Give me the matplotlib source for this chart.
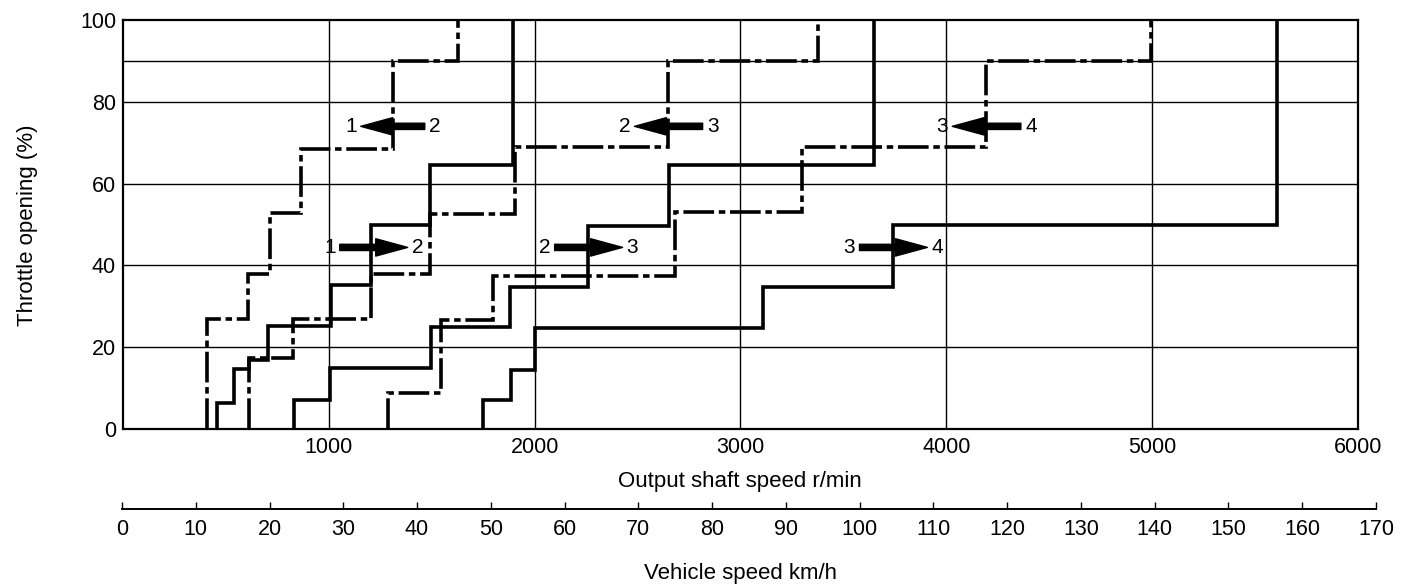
import matplotlib
matplotlib.use("Agg")
import matplotlib.pyplot as plt

plt.rcParams['font.family'] = ['Liberation Sans', 'DejaVu Sans']

# shift lines: rpm break points and throttle level reached at each (steps-pre)
up12_rpm = [455, 541, 613, 706, 1010, 1207, 1490, 1893, 1893]
up12_thr = [0, 6.4, 14.7, 16.9, 25.3, 35.2, 49.9, 64.5, 100]

up23_rpm = [832, 1005, 1498, 1879, 2259, 2655, 3650, 3650]
up23_thr = [0, 7, 14.8, 25, 34.7, 49.6, 64.6, 100]

up34_rpm = [1749, 1883, 2000, 3108, 3739, 5608, 5608]
up34_thr = [0, 7.1, 14.4, 24.6, 34.6, 50, 100]

down21_rpm = [409, 608, 713, 867, 1312, 1628, 1628]
down21_thr = [0, 26.8, 38, 52.7, 68.5, 90, 100]

down32_rpm = [613, 828, 1207, 1490, 1903, 2646, 3375, 3375]
down32_thr = [0, 17.3, 27, 38, 52.6, 69, 90, 100]

down43_rpm = [1288, 1547, 1797, 2680, 3299, 4193, 4993, 4993]
down43_thr = [0, 8.9, 26.7, 37.5, 53.1, 69, 90, 100]

# arrows: tail rpm, head rpm, throttle, lower gear, higher gear
arrow_tail = [1466, 2816, 4362, 1053, 2097, 3578]
arrow_head = [1155, 2485, 4029, 1383, 2427, 3908]
arrow_thr = [74, 74, 74, 44.4, 44.4, 44.4]
arrow_low = ['1', '2', '3', '1', '2', '3']
arrow_high = ['2', '3', '4', '2', '3', '4']

rpm_ticks = [1000, 2000, 3000, 4000, 5000, 6000]
thr_ticks = [0, 20, 40, 60, 80, 100]
grid_rpm = [1000, 2000, 3000, 4000, 5000]
grid_thr = [20, 40, 60, 80, 90]
kmh_ticks = list(range(0, 171, 10))

W, H = 1406, 587
fig = plt.figure(figsize=(W / 100, H / 100), dpi=100)
ax = fig.add_axes([123 / W, 1 - 429 / H, (1358 - 123) / W, (429 - 20) / H])
ax.set_xlim(0, 6000)
ax.set_ylim(0, 100)

for v in grid_rpm:
    ax.axvline(v, color='k', lw=1.0, zorder=1)
for h in grid_thr:
    ax.axhline(h, color='k', lw=1.0, zorder=1)

solid = dict(color='k', lw=2.6, drawstyle='steps-pre', solid_joinstyle='miter', zorder=3)
dashdot = dict(color='k', lw=2.6, drawstyle='steps-pre', linestyle=(0, (8.5, 1.3, 1.8, 1.3)),
               dash_joinstyle='miter', zorder=3)

ax.plot(up12_rpm, up12_thr, **solid)
ax.plot(up23_rpm, up23_thr, **solid)
ax.plot(up34_rpm, up34_thr, **solid)
ax.plot(down21_rpm, down21_thr, **dashdot)
ax.plot(down32_rpm, down32_thr, **dashdot)
ax.plot(down43_rpm, down43_thr, **dashdot)

for tail, head, y, lo, hi in zip(arrow_tail, arrow_head, arrow_thr, arrow_low, arrow_high):
    ax.annotate('', xy=(head, y), xytext=(tail, y),
                arrowprops=dict(arrowstyle='simple,head_length=2.3,head_width=1.25,tail_width=0.45',
                                mutation_scale=10, color='k', shrinkA=0, shrinkB=0), zorder=4)
    ax.annotate(lo, xy=(min(tail, head), y), xytext=(-3, 0), textcoords='offset points',
                ha='right', va='center', fontsize=15, zorder=4)
    ax.annotate(hi, xy=(max(tail, head), y), xytext=(3, 0), textcoords='offset points',
                ha='left', va='center', fontsize=15, zorder=4)

ax.set_xticks(rpm_ticks)
ax.set_yticks(thr_ticks)
ax.tick_params(length=0, labelsize=15.5)
ax.tick_params(axis='x', pad=6)
ax.tick_params(axis='y', pad=5)
for s in ax.spines.values():
    s.set_linewidth(1.6)

fig.text(740 / W, 1 - 481 / H, 'Output shaft speed r/min', ha='center', va='center', fontsize=16)
fig.text(28 / W, 1 - 225 / H, 'Throttle opening (%)', ha='center', va='center',
         rotation=90, fontsize=16)

# vehicle speed scale
ax2 = fig.add_axes([122 / W, 1 - 509 / H, (1376 - 122) / W, 0.0001])
ax2.patch.set_visible(False)
ax2.set_xlim(0, 170)
ax2.set_yticks([])
for side in ['left', 'right', 'top']:
    ax2.spines[side].set_visible(False)
ax2.spines['bottom'].set_linewidth(1.4)
ax2.set_xticks(kmh_ticks)
ax2.tick_params(axis='x', direction='in', length=5, width=1.0, labelsize=15.5, pad=7)

fig.text(740 / W, 1 - 574 / H, 'Vehicle speed km/h', ha='center', va='center', fontsize=16)

fig.savefig('out.png', dpi=100)
